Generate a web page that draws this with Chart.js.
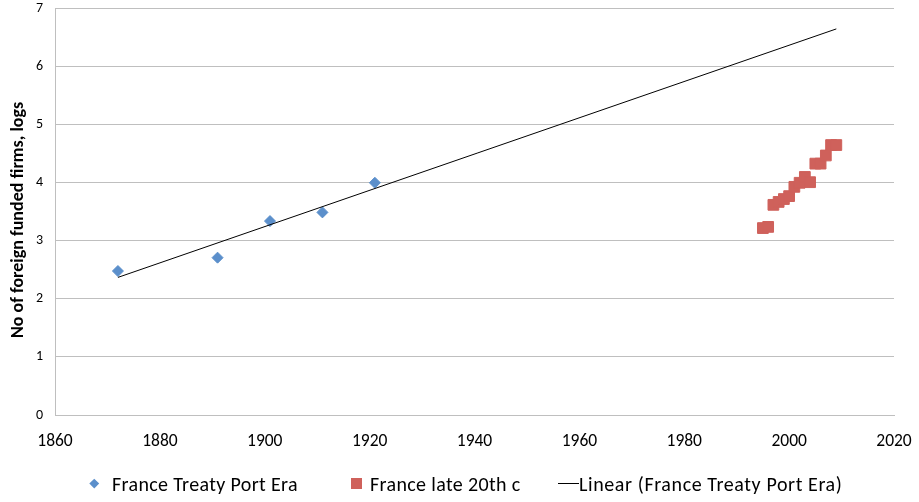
<!DOCTYPE html>
<html>
<head>
<meta charset="utf-8">
<title>Foreign funded firms in France</title>
<script src="https://cdn.jsdelivr.net/npm/chart.js@4.4.1/dist/chart.umd.min.js"></script>
<style>
  html, body { margin: 0; padding: 0; background: #fff; }
  #wrap { position: relative; width: 919px; height: 502px; font-family: Carlito, Lato, sans-serif; }
  #chart { position: absolute; left: 0; top: 0; }
  .leg { position: absolute; top: 472px; height: 24px; line-height: 24px; font-size: 20px; letter-spacing: 0.35px; color: #000; white-space: nowrap; }
  .mk { position: absolute; }
  .diamond { width: 6.5px; height: 6.5px; background: #5B8FCB; transform: rotate(45deg); }
  .square { width: 11px; height: 11px; background: #CF615B; }
  .dash { width: 21px; height: 1px; background: #000; }
</style>
</head>
<body>
<div id="wrap">
  <canvas id="chart" width="919" height="502"></canvas>
  <div class="mk diamond" style="left:90.7px; top:480.2px;"></div>
  <div class="leg" style="left:112px;">France Treaty Port Era</div>
  <div class="mk square" style="left:351px; top:478px;"></div>
  <div class="leg" style="left:370px;">France late 20th c</div>
  <div class="mk dash" style="left:558px; top:483px;"></div>
  <div class="leg" style="left:579px; letter-spacing:0.6px;">Linear (France Treaty Port Era)</div>
</div>
<script>
// Treaty port era observations
const treatyYears  = [1872, 1891, 1901, 1911, 1921];
const treatyValues = [2.48, 2.71, 3.34, 3.49, 4.00];

// Late 20th century observations
const lateYears  = [1995, 1996, 1997, 1998, 1999, 2000, 2001, 2002, 2003, 2004, 2005, 2006, 2007, 2008, 2009];
const lateValues = [3.22, 3.24, 3.62, 3.67, 3.72, 3.77, 3.93, 4.00, 4.10, 4.01, 4.33, 4.33, 4.47, 4.65, 4.65];

// Linear trend of the treaty port era, start and end
const trendYears  = [1872, 2009];
const trendValues = [2.37, 6.65];

// Axis ticks
const xTicks = [1860, 1880, 1900, 1920, 1940, 1960, 1980, 2000, 2020];
const yTicks = [0, 1, 2, 3, 4, 5, 6, 7];

const pairs = (xs, ys) => xs.map((x, i) => ({ x: x, y: ys[i] }));
const FONT = 'Carlito, Lato, sans-serif';
const GRID = '#BFBFBF';
const NONE = 'rgba(0,0,0,0)';

new Chart(document.getElementById('chart'), {
  type: 'scatter',
  data: {
    datasets: [
      {
        label: 'Linear (France Treaty Port Era)',
        data: pairs(trendYears, trendValues),
        showLine: true,
        borderColor: '#000',
        borderWidth: 1,
        pointRadius: 0,
        fill: false
      },
      {
        label: 'France Treaty Port Era',
        data: pairs(treatyYears, treatyValues),
        pointStyle: 'rectRot',
        pointRadius: 5.5,
        backgroundColor: '#5B8FCB',
        borderColor: '#5B8FCB',
        borderWidth: 1
      },
      {
        label: 'France late 20th c',
        data: pairs(lateYears, lateValues),
        pointStyle: 'rect',
        pointRadius: 7.6,
        backgroundColor: '#CF615B',
        borderColor: '#CF615B',
        borderWidth: 1
      }
    ]
  },
  options: {
    responsive: false,
    devicePixelRatio: 1,
    animation: false,
    layout: { padding: { left: 0, top: 8, right: 25, bottom: 0 } },
    plugins: { legend: { display: false }, tooltip: { enabled: false } },
    scales: {
      x: {
        type: 'linear',
        min: xTicks[0],
        max: xTicks[xTicks.length - 1],
        afterBuildTicks: s => { s.ticks = xTicks.map(v => ({ value: v })); },
        afterFit: s => { s.height = 87; },
        grid: { display: false, drawOnChartArea: false, drawTicks: true, tickLength: 16, tickColor: NONE },
        border: { display: true, color: GRID, width: 1 },
        ticks: {
          color: '#000',
          padding: 0,
          font: { family: FONT, size: 17.5 },
          callback: v => String(v)
        }
      },
      y: {
        type: 'linear',
        min: yTicks[0],
        max: yTicks[yTicks.length - 1],
        afterBuildTicks: s => { s.ticks = yTicks.map(v => ({ value: v })); },
        afterFit: s => { s.width = 55; },
        grid: { display: true, color: GRID, lineWidth: 1, drawTicks: true, tickLength: 12, tickColor: NONE },
        border: { display: true, color: GRID, width: 1 },
        ticks: {
          color: '#000',
          padding: 0,
          font: { family: FONT, size: 14 },
          callback: v => String(v)
        },
        title: {
          display: true,
          text: 'No of foreign funded firms, logs\u00A0\u00A0\u00A0\u00A0',
          color: '#000',
          font: { family: FONT, size: 18, weight: 'bold' },
          padding: { top: 8, bottom: 0 }
        }
      }
    }
  }
});
</script>
</body>
</html>
